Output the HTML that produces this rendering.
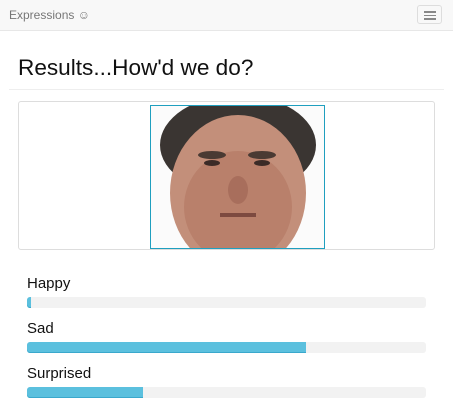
<!DOCTYPE html>
<html><head><meta charset="utf-8"><style>
body{margin:0;width:453px;height:404px;overflow:hidden;background:#fff;font-family:"Liberation Sans",sans-serif;position:relative}
.nav{position:absolute;left:0;top:0;width:453px;height:30px;background:#f8f8f8;border-bottom:1px solid #e7e7e7}
.brand{position:absolute;left:9px;top:8px;font-size:12px;color:#777}
.tog{position:absolute;left:417px;top:5px;width:25px;height:19px;border:1px solid #ddd;border-radius:3px;box-sizing:border-box}
.tog i{position:absolute;left:6px;width:12px;height:1.5px;background:#888}
h1{position:absolute;left:18px;top:55px;margin:0;font-size:22.6px;font-weight:normal;color:#111}
.hr{position:absolute;left:9px;top:89px;width:435px;height:1px;background:#eee}
.panel{position:absolute;left:18px;top:101px;width:417px;height:149px;border:1px solid #ddd;border-radius:3px;box-sizing:border-box}
.lbl{position:absolute;left:27px;font-size:15px;color:#111}
.track{position:absolute;left:27px;width:399px;height:11px;background:#f2f2f2;border-radius:3px}
.fill{position:absolute;left:0;top:0;height:11px;background:#5bc0de;border-radius:3px 0 0 3px;box-shadow:inset 0 -1px 0 #3aa8cc}
</style></head><body>
<div class="nav">
<div class="brand">Expressions ☺</div>
<div class="tog"><i style="top:5px"></i><i style="top:8.5px"></i><i style="top:12px"></i></div>
</div>
<h1>Results...How'd we do?</h1>
<div class="hr"></div>
<div class="panel"></div>
<svg style="position:absolute;left:150px;top:105px" width="175" height="144">
<rect width="175" height="144" fill="#fbfbfb"/>
<ellipse cx="88" cy="40" rx="78" ry="50" fill="#3a3532"/>
<ellipse cx="88" cy="88" rx="68" ry="78" fill="#c38f7a"/>
<ellipse cx="88" cy="102" rx="54" ry="56" fill="#b9806b"/>
<ellipse cx="62" cy="50" rx="14" ry="4" fill="#4a3a33"/>
<ellipse cx="112" cy="50" rx="14" ry="4" fill="#4a3a33"/>
<ellipse cx="62" cy="58" rx="8" ry="3" fill="#3b2b27"/>
<ellipse cx="112" cy="58" rx="8" ry="3" fill="#3b2b27"/>
<ellipse cx="88" cy="85" rx="10" ry="14" fill="#a86e5c"/>
<rect x="70" y="108" width="36" height="4" fill="#7d4a40"/>
<rect x="0.5" y="0.5" width="174" height="143" fill="none" stroke="#1f9fbf"/>
</svg>
<div id="bars"></div>
<script>
const categories=["Happy","Sad","Surprised"];
const values=[1,70,29];
const c=document.getElementById('bars');
categories.forEach((cat,i)=>{
 const y=272+i*45;
 const l=document.createElement('div');l.className='lbl';l.style.top=(y+3)+'px';l.textContent=cat;
 
 
 const t=document.createElement('div');t.className='track';t.style.top=(y+25)+'px';
 
 
 const f=document.createElement('div');f.className='fill';f.style.width=(values[i]/100*399)+'px';
 
 
 t.appendChild(f);c.appendChild(l);c.appendChild(t);
});
</script>
</body></html>
